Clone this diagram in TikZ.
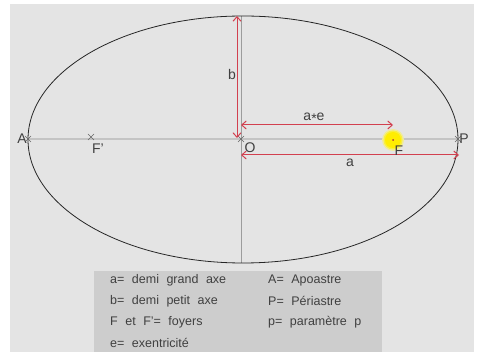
\documentclass[tikz,border=0pt]{standalone}
\usepackage{fontspec}
\setmainfont{Liberation Sans}
\usetikzlibrary{arrows.meta,calc}
\definecolor{bgc}{HTML}{E4E4E4}
\definecolor{legc}{HTML}{CDCDCD}
\definecolor{txt}{HTML}{404040}
\definecolor{redc}{HTML}{D2404F}
\definecolor{axisc}{HTML}{C4C4C4}
\definecolor{vaxisc}{HTML}{9C9C9C}
\newcommand\legfnt{\fontsize{12.5}{14}\selectfont\spaceskip=7.5pt\relax}
\tikzset{
  lbl/.style={text=txt, inner sep=0pt, font=\fontsize{14}{16}\selectfont},
  leg/.style={text=txt, inner sep=0pt, anchor=west, font=\legfnt},
  dim/.style={draw=redc, line width=1pt, {Straight Barb[length=4.5pt,width=8pt]}-{Straight Barb[length=4.5pt,width=8pt]}},
  cross/.style={draw=txt!80, line width=0.6pt},
}
\begin{document}
\begin{tikzpicture}[x=1pt,y=-1pt]
\useasboundingbox (0,0) rectangle (479,352);
\fill[white] (0,0) rectangle (479,352);
\fill[bgc] (10,4) rectangle (474,352);
% key points
\coordinate (C) at (243,139.5);
\coordinate (A) at (28,139);
\coordinate (P) at (458,139);
\coordinate (O) at (241,139);
\coordinate (T) at (241,16);
\coordinate (B) at (241,263);
\coordinate (F) at (393,140);
\coordinate (Fp) at (91,137);
% axes
\draw[axisc, line width=1.4pt] (A) -- (P);
\draw[vaxisc, line width=0.7pt] (T) -- (B);
% ellipse
\draw[black!85, line width=0.8pt] (C) ellipse [x radius=215, y radius=123.5];
% focus glow
\fill[yellow!35!bgc] (F) circle (11);
\fill[yellow!75!bgc] (F) circle (9.5);
\fill[yellow!95!orange] (F) circle (8);
\fill[redc!80!black] (F) circle (1);
% crosses
\draw[cross] ($(O)+(-3,-3)$) -- ($(O)+(3,3)$) ($(O)+(-3,3)$) -- ($(O)+(3,-3)$);
\draw[cross] ($(Fp)+(-3,-3)$) -- ($(Fp)+(3,3)$) ($(Fp)+(-3,3)$) -- ($(Fp)+(3,-3)$);
\draw[cross] ($(A)+(-3,-3)$) -- ($(A)+(3,3)$) ($(A)+(-3,3)$) -- ($(A)+(3,-3)$);
\draw[cross] ($(P)+(-3,-3)$) -- ($(P)+(3,3)$) ($(P)+(-3,3)$) -- ($(P)+(3,-3)$);
% dimension arrows
\coordinate (bt) at (237,16);
\coordinate (bb) at (237,138);
\draw[dim] (bt) -- (bb);
\coordinate (el) at (241,125);
\coordinate (er) at (393,125);
\draw[dim] (el) -- (er);
\coordinate (al) at (241,155);
\coordinate (ar) at (459,155);
\draw[dim] (al) -- (ar);
% labels
\node[lbl] (lA) at (22,139) {A};
\node[lbl] (lP) at (464,139) {P};
\node[lbl] (lFp) at (98,149) {F'};
\node[lbl] (lF) at (399,151) {F};
\node[lbl] (lO) at (250,148) {O};
\node[lbl] (lb) at (232,75) {b};
\node[lbl] (lae) at (314,118) {a\raisebox{-3pt}{*}e};
\node[lbl] (la) at (350,163) {a};
% legend
\fill[legc] (94,271) rectangle (382,352);
\node[leg] (l1) at (110,280) {a= demi grand axe};
\node[leg] (l2) at (110,301) {b= demi petit axe};
\node[leg] (l3) at (110,322) {F et F'= foyers};
\node[leg] (l4) at (110,343) {e= exentricité};
\node[leg] (r1) at (268,280) {A= Apoastre};
\node[leg] (r2) at (268,301) {P= Périastre};
\node[leg] (r3) at (268,322) {p= paramètre p};
\end{tikzpicture}
\end{document}
